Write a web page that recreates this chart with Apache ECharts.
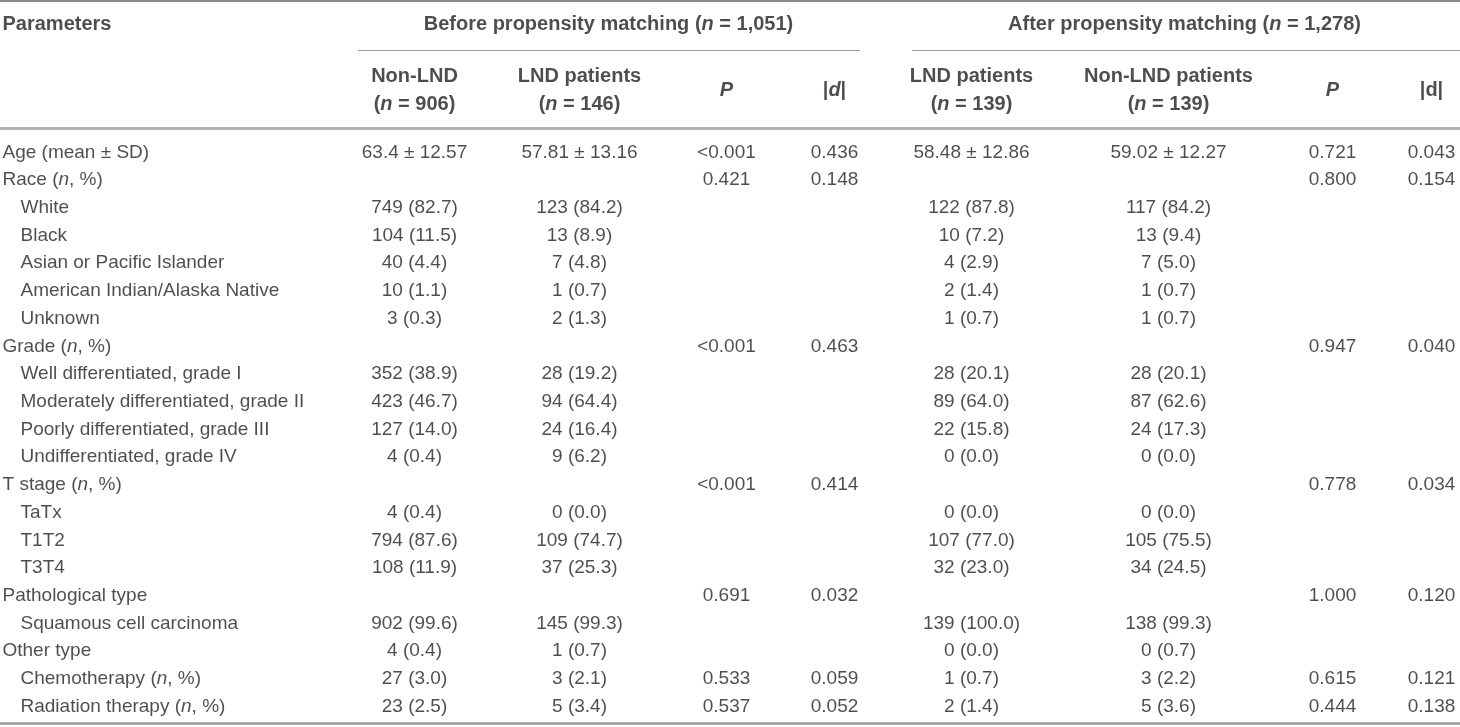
<!DOCTYPE html>
<html>
<head>
<meta charset="utf-8">
<script src="https://cdn.jsdelivr.net/npm/echarts@6/dist/echarts.min.js"></script>
<style>
  html, body { margin: 0; padding: 0; background: #fff; }
  #table { width: 1460px; height: 727px; }
</style>
</head>
<body>
<div id="table"></div>
<script>
// row labels and indent level (0 = group, 1 = sub item)
var rowLabels = [
    'Age (mean ± SD)', 'Race (n, %)', 'White', 'Black', 'Asian or Pacific Islander',
    'American Indian/Alaska Native', 'Unknown', 'Grade (n, %)', 'Well differentiated, grade I',
    'Moderately differentiated, grade II', 'Poorly differentiated, grade III', 'Undifferentiated, grade IV',
    'T stage (n, %)', 'TaTx', 'T1T2', 'T3T4', 'Pathological type', 'Squamous cell carcinoma',
    'Other type', 'Chemotherapy (n, %)', 'Radiation therapy (n, %)'
];
var rowLevel = [0, 0, 1, 1, 1, 1, 1, 0, 1, 1, 1, 1, 0, 1, 1, 1, 0, 1, 0, 1, 1];

var groupHeaders = ['Before propensity matching (n = 1,051)', 'After propensity matching (n = 1,278)'];
var columnHeaders = [
    'Non-LND\n(n = 906)', 'LND patients\n(n = 146)', '{bi|P}', '|{bi|d}|',
    'LND patients\n(n = 139)', 'Non-LND patients\n(n = 139)', '{bi|P}', '|d|'
];

var nonLndBefore = ['63.4 ± 12.57', '', '749 (82.7)', '104 (11.5)', '40 (4.4)', '10 (1.1)', '3 (0.3)',
    '', '352 (38.9)', '423 (46.7)', '127 (14.0)', '4 (0.4)', '', '4 (0.4)', '794 (87.6)', '108 (11.9)',
    '', '902 (99.6)', '4 (0.4)', '27 (3.0)', '23 (2.5)'];
var lndBefore = ['57.81 ± 13.16', '', '123 (84.2)', '13 (8.9)', '7 (4.8)', '1 (0.7)', '2 (1.3)',
    '', '28 (19.2)', '94 (64.4)', '24 (16.4)', '9 (6.2)', '', '0 (0.0)', '109 (74.7)', '37 (25.3)',
    '', '145 (99.3)', '1 (0.7)', '3 (2.1)', '5 (3.4)'];
var pBefore = ['<0.001', '0.421', '', '', '', '', '', '<0.001', '', '', '', '', '<0.001', '', '', '',
    '0.691', '', '', '0.533', '0.537'];
var dBefore = ['0.436', '0.148', '', '', '', '', '', '0.463', '', '', '', '', '0.414', '', '', '',
    '0.032', '', '', '0.059', '0.052'];
var lndAfter = ['58.48 ± 12.86', '', '122 (87.8)', '10 (7.2)', '4 (2.9)', '2 (1.4)', '1 (0.7)',
    '', '28 (20.1)', '89 (64.0)', '22 (15.8)', '0 (0.0)', '', '0 (0.0)', '107 (77.0)', '32 (23.0)',
    '', '139 (100.0)', '0 (0.0)', '1 (0.7)', '2 (1.4)'];
var nonLndAfter = ['59.02 ± 12.27', '', '117 (84.2)', '13 (9.4)', '7 (5.0)', '1 (0.7)', '1 (0.7)',
    '', '28 (20.1)', '87 (62.6)', '24 (17.3)', '0 (0.0)', '', '0 (0.0)', '105 (75.5)', '34 (24.5)',
    '', '138 (99.3)', '0 (0.7)', '3 (2.2)', '5 (3.6)'];
var pAfter = ['0.721', '0.800', '', '', '', '', '', '0.947', '', '', '', '', '0.778', '', '', '',
    '1.000', '', '', '0.615', '0.444'];
var dAfter = ['0.043', '0.154', '', '', '', '', '', '0.040', '', '', '', '', '0.034', '', '', '',
    '0.120', '', '', '0.121', '0.138'];

var dataColumns = [nonLndBefore, lndBefore, pBefore, dBefore, lndAfter, nonLndAfter, pAfter, dAfter];

// layout (x in page px, y in row units: row 0 = first data row)
var colX = [415, 580, 727, 835, 972, 1169, 1333, 1432];
var labelX = [3, 21];
var groupX = [609, 1185];
var groupRule = [[358, 860], [912, 1460]];
var yGroup = -4.62, yColHead = -2.24, yGroupRule = -3.72;
var FONT = 'Liberation Sans';
var INK = '#231f20';
var BODY = 19, HEAD = 20;

function italicN(s, tag) {
    return s.replace(/\(n, %\)/g, '({i|n}, %)').replace(/\(n = /g, '({' + (tag || 'bi') + '|n} = ');
}

var rich = {
    i: { fontStyle: 'italic', fontFamily: FONT, fontSize: BODY, color: INK },
    bi: { fontStyle: 'italic', fontWeight: 'bold', fontFamily: FONT, fontSize: HEAD, color: INK, lineHeight: 28 }
};

function textSeries(points, align, bold, lineHeight) {
    return {
        type: 'scatter',
        symbolSize: 1,
        itemStyle: { color: 'rgba(0,0,0,0)' },
        silent: true,
        animation: false,
        data: points,
        label: {
            show: true,
            position: [0, 0],
            align: align,
            verticalAlign: 'middle',
            fontFamily: FONT,
            fontSize: bold ? HEAD : BODY,
            fontWeight: bold ? 'bold' : 'normal',
            color: INK,
            lineHeight: lineHeight || 24,
            rich: rich,
            formatter: function (p) { return p.data[2]; }
        }
    };
}

var series = [];

// first column labels
series.push(textSeries(rowLabels.map(function (t, i) {
    return [labelX[rowLevel[i]], i, italicN(t)];
}), 'left', false));

// data columns
dataColumns.forEach(function (col, c) {
    series.push(textSeries(col.map(function (v, i) {
        return [colX[c], i, v];
    }).filter(function (d) { return d[2] !== ''; }), 'center', false));
});

// headers
series.push(textSeries([[labelX[0], yGroup, 'Parameters']], 'left', true));
series.push(textSeries(groupHeaders.map(function (t, g) {
    return [groupX[g], yGroup, italicN(t)];
}), 'center', true));
series.push(textSeries(columnHeaders.map(function (t, c) {
    return [colX[c], yColHead, italicN(t)];
}), 'center', true, 28));

// rules
function rule(x1, x2, y, width, color) {
    return [{ coord: [x1, y], lineStyle: { width: width, color: color } }, { coord: [x2, y] }];
}
series.push({
    type: 'scatter',
    data: [],
    silent: true,
    markLine: {
        silent: true,
        symbol: 'none',
        animation: false,
        label: { show: false },
        lineStyle: { type: 'solid' },
        data: [
            rule(0, 1460, -5.48, 2, '#8a8a8a'),
            rule(groupRule[0][0], groupRule[0][1], yGroupRule, 1.2, '#9a9a9a'),
            rule(groupRule[1][0], groupRule[1][1], yGroupRule, 1.2, '#9a9a9a'),
            rule(0, 1460, -0.90, 3, '#b4b4b4'),
            rule(0, 1460, 20.58, 2.5, '#9a9a9a')
        ]
    }
});

var chart = echarts.init(document.getElementById('table'));
chart.setOption({
    animation: false,
    grid: { left: 0, right: 0, top: 0, bottom: 0 },
    xAxis: { type: 'value', min: 0, max: 1460, show: false },
    yAxis: { type: 'value', min: -5.52, max: 20.72, inverse: true, show: false },
    series: series
});
</script>
</body>
</html>
